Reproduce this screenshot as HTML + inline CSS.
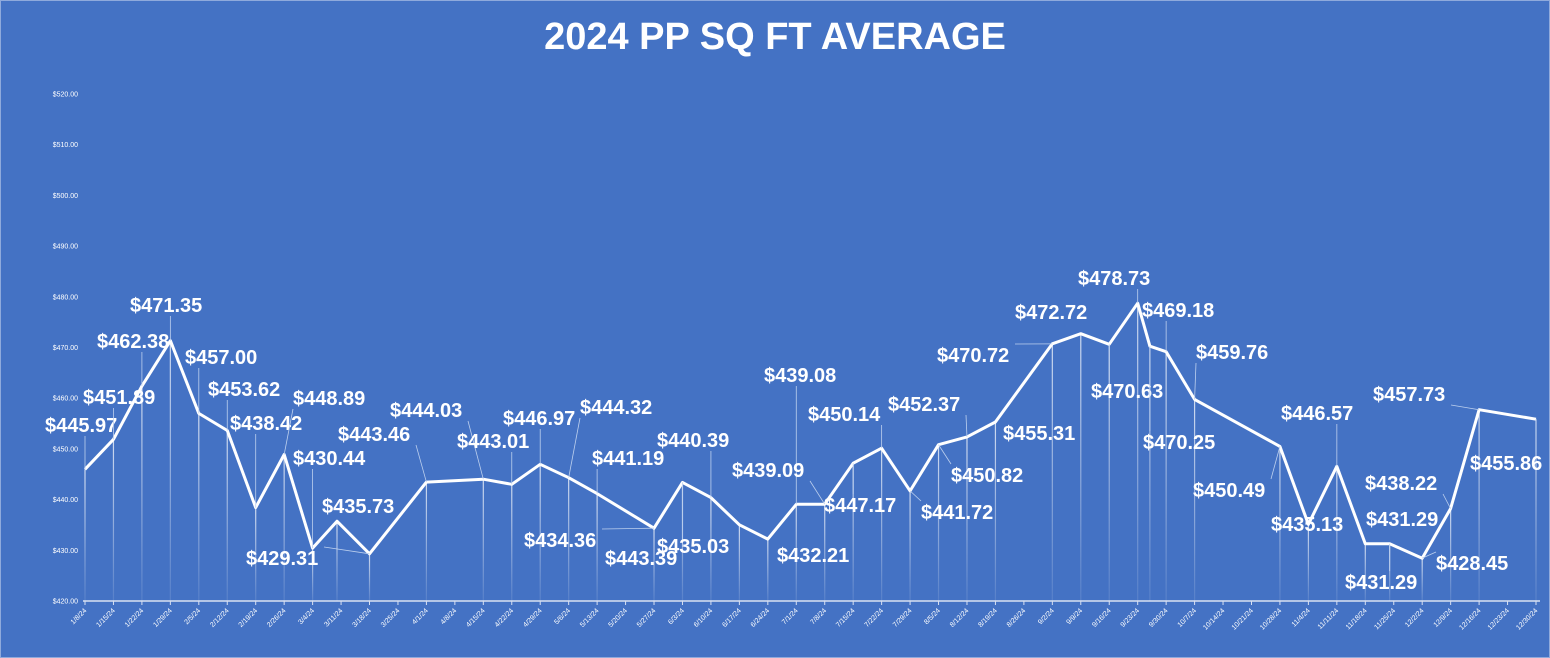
<!DOCTYPE html>
<html><head><meta charset="utf-8">
<style>
html,body{margin:0;padding:0;background:#4472C4;}
svg{display:block;font-family:"Liberation Sans",sans-serif;}
</style></head>
<body>
<svg id="chart" width="1550" height="658" viewBox="0 0 1550 658" xmlns="http://www.w3.org/2000/svg">
<defs>
<linearGradient id="dropGrad" x1="0" y1="0" x2="0" y2="1">
<stop offset="0" stop-color="#ffffff" stop-opacity="0.75"/>
<stop offset="1" stop-color="#ffffff" stop-opacity="0.1"/>
</linearGradient>
</defs>
<rect x="0.5" y="0.5" width="1549" height="657" fill="#4472C4" stroke="#8FAADC" stroke-width="1"/>
<text x="775" y="49" text-anchor="middle" font-size="38" font-weight="bold" fill="#fff">2024 PP SQ FT AVERAGE</text>
<g id="yaxis"></g>
<g id="xaxis"></g>
<g id="drops"></g>
<g id="series"></g>
<g id="labels"></g>
</svg>
<script>
const dates = ["1/8/24","1/15/24","1/22/24","1/29/24","2/5/24","2/12/24","2/19/24","2/26/24","3/4/24","3/10/24","3/18/24","4/1/24","4/15/24","4/22/24","4/29/24","5/6/24","5/13/24","5/27/24","6/3/24","6/10/24","6/17/24","6/24/24","7/1/24","7/8/24","7/15/24","7/22/24","7/29/24","8/5/24","8/12/24","8/19/24","9/2/24","9/9/24","9/16/24","9/23/24","9/26/24","9/30/24","10/7/24","10/28/24","11/4/24","11/11/24","11/18/24","11/24/24","12/2/24","12/9/24","12/16/24","12/30/24"];
const values = [445.97,451.89,462.38,471.35,457.00,453.62,438.42,448.89,430.44,435.73,429.31,443.46,444.03,443.01,446.97,444.32,441.19,434.36,443.39,440.39,435.03,432.21,439.08,439.09,447.17,450.14,441.72,450.82,452.37,455.31,470.72,472.72,470.63,478.73,470.25,469.18,459.76,450.49,435.13,446.57,431.29,431.29,428.45,438.22,457.73,455.86];
const tickLabels = ["1/8/24","1/15/24","1/22/24","1/29/24","2/5/24","2/12/24","2/19/24","2/26/24","3/4/24","3/11/24","3/18/24","3/25/24","4/1/24","4/8/24","4/15/24","4/22/24","4/29/24","5/6/24","5/13/24","5/20/24","5/27/24","6/3/24","6/10/24","6/17/24","6/24/24","7/1/24","7/8/24","7/15/24","7/22/24","7/29/24","8/5/24","8/12/24","8/19/24","8/26/24","9/2/24","9/9/24","9/16/24","9/23/24","9/30/24","10/7/24","10/14/24","10/21/24","10/28/24","11/4/24","11/11/24","11/18/24","11/25/24","12/2/24","12/9/24","12/16/24","12/23/24","12/30/24"];
const yTicks = [420,430,440,450,460,470,480,490,500,510,520];
// label anchor layout (left x, center y) — layout only
const labelLayout = [[45,425],[83,397],[97,341],[130,305],[185,357],[208,389],[230,423],[293,398],[293,458],[322,506],[246,558],[338,434],[390,410],[457,441],[503,418],[580,407],[592,458],[524,540],[605,558],[657,440],[657,546],[777,555],[764,375],[732,470],[824,505],[808,414],[921,512],[951,475],[888,404],[1003,433],[937,355],[1015,312],[1091,391],[1078,278],[1143,442],[1142,310],[1196,352],[1193,490],[1271,524],[1281,413],[1366,519],[1345,582],[1436,563],[1365,483],[1373,394],[1470,463]];

const NS="http://www.w3.org/2000/svg";
const X0=85, X1=1536, Y0=601, Y1=94, YMIN=420, YMAX=520;
const d0=new Date(2024,0,8), dN=new Date(2024,11,30);
function parseD(s){const p=s.split('/');return new Date(2000+ +p[2],+p[0]-1,+p[1]);}
function xs(s){return X0+(parseD(s)-d0)/(dN-d0)*(X1-X0);}
function ys(v){return Y0-(v-YMIN)/(YMAX-YMIN)*(Y0-Y1);}
function mk(tag,attrs,parent){const e=document.createElementNS(NS,tag);for(const k in attrs)e.setAttribute(k,attrs[k]);parent.appendChild(e);return e;}

const yaxis=document.getElementById('yaxis');
yTicks.forEach(v=>{
  const t=mk('text',{x:78,y:ys(v)+2.5,'text-anchor':'end','font-size':7,fill:'#fff'},yaxis);
  
  
  t.textContent='$'+v.toFixed(2);
});
const xaxis=document.getElementById('xaxis');
const axl=mk('line',{x1:X0-2,y1:Y0,x2:X1+4,y2:Y0,stroke:'#D9E1F2','stroke-width':1.5},xaxis);


tickLabels.forEach(s=>{
  const x=xs(s);
  const tk=mk('line',{x1:x,y1:Y0,x2:x,y2:Y0+4,stroke:'#D9E1F2','stroke-width':1},xaxis);
  
  
  const t=mk('text',{x:x+2,y:Y0+10,'text-anchor':'end','font-size':7,fill:'#fff',transform:`rotate(-45 ${x+2} ${Y0+10})`},xaxis);
  
  
  t.textContent=s;
});
const drops=document.getElementById('drops');
const series=document.getElementById('series');
const labels=document.getElementById('labels');
let pts=[];
dates.forEach((s,i)=>{
  const x=xs(s), y=ys(values[i]);
  pts.push(x.toFixed(1)+','+y.toFixed(1));
  const r=mk('rect',{x:x-0.6,y:y,width:1.2,height:Math.max(0,Y0-y),fill:'url(#dropGrad)'},drops);
  
  
});
const pl=mk('polyline',{points:pts.join(' '),fill:'none',stroke:'#fff','stroke-width':3,'stroke-linejoin':'round'},series);


dates.forEach((s,i)=>{
  const x=xs(s), y=ys(values[i]);
  const lx=labelLayout[i][0], ly=labelLayout[i][1];
  const w=78;
  const cx=Math.max(lx,Math.min(lx+w,x)), cy=(y<ly)?ly-11:ly+11;
  const dist=Math.hypot(cx-x,cy-y);
  if(dist>14 && !(x>lx-3&&x<lx+w+3&&y>ly-14&&y<ly+14)){
    const ll=mk('line',{x1:x,y1:y,x2:cx,y2:cy,stroke:'#BDD0EE','stroke-width':0.8},labels);
    
    
  }
  const t=mk('text',{x:lx,y:ly+7,'font-size':20,'font-weight':'bold',fill:'#fff'},labels);
  
  
  t.textContent='$'+values[i].toFixed(2);
});
</script>
</body></html>
